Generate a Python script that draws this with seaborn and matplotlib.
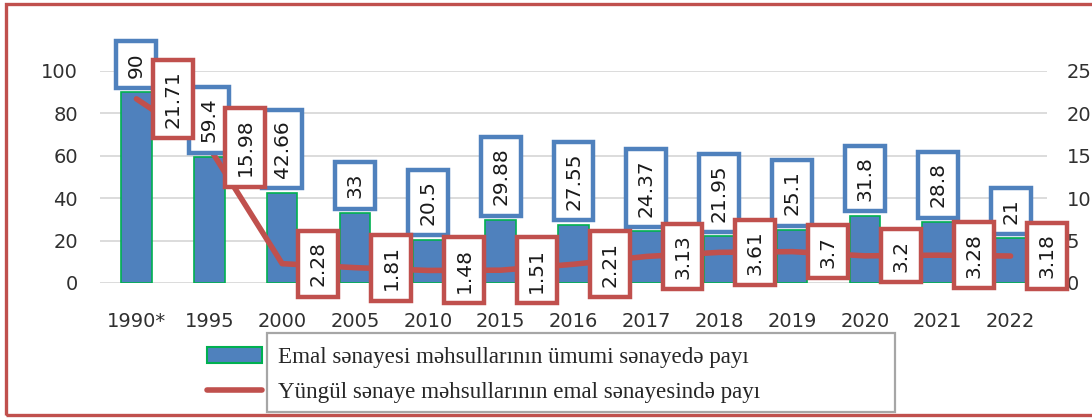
import matplotlib
matplotlib.use("Agg")
import matplotlib.pyplot as plt
from matplotlib.patches import Patch, Rectangle
from matplotlib.lines import Line2D
import seaborn as sns

years = ["1990*", "1995", "2000", "2005", "2010", "2015", "2016",
         "2017", "2018", "2019", "2020", "2021", "2022"]
emal = [90, 59.4, 42.66, 33, 20.5, 29.88, 27.55, 24.37, 21.95, 25.1, 31.8, 28.8, 21]
yungul = [21.71, 15.98, 2.28, 1.81, 1.48, 1.51, 2.21, 3.13, 3.61, 3.7, 3.2, 3.28, 3.18]
emal_txt = ["90", "59.4", "42.66", "33", "20.5", "29.88", "27.55", "24.37",
            "21.95", "25.1", "31.8", "28.8", "21"]
yungul_txt = ["21.71", "15.98", "2.28", "1.81", "1.48", "1.51", "2.21", "3.13",
              "3.61", "3.7", "3.2", "3.28", "3.18"]
legend_labels = ["Emal sənayesi məhsullarının ümumi sənayedə payı",
                 "Yüngül sənaye məhsullarının emal sənayesində payı"]

blue = "#4f81bd"
green = "#00b050"
red = "#c0504d"
tick_col = "#303030"

sns.set_theme(style="white")
plt.rcParams["font.family"] = ["DejaVu Sans"]

fig = plt.figure(figsize=(10.92, 4.19), dpi=100)
ax = fig.add_axes([0.0916, 0.3246, 0.8672, 0.506])

sns.barplot(x=years, y=emal, color=blue, edgecolor=green, linewidth=1.2,
            width=0.42, saturation=1, ax=ax, zorder=2)
ax.set_ylim(0, 100)
ax.set_yticks([0, 20, 40, 60, 80, 100])
ax.yaxis.grid(True, color="#d9d9d9", lw=1.3, zorder=0)
ax.set_axisbelow(True)
ax.tick_params(axis="both", length=0, labelsize=14, labelcolor=tick_col)
ax.tick_params(axis="x", pad=21)
ax.tick_params(axis="y", pad=16)
ax.set_xlabel("")
ax.set_ylabel("")

ax2 = ax.twinx()
sns.lineplot(x=list(range(len(years))), y=yungul, color=red, lw=4, ax=ax2)
ax2.set_ylim(0, 25)
ax2.set_yticks([0, 5, 10, 15, 20, 25])
ax2.tick_params(axis="y", length=0, labelsize=14, labelcolor=tick_col, pad=14)
ax2.grid(False)
ax2.set_ylabel("")
ax.set_xlim(-0.5, len(years) - 0.5)

for a in (ax, ax2):
    for s in a.spines.values():
        s.set_visible(False)

for i, (v, t) in enumerate(zip(emal, emal_txt)):
    ax2.annotate(t, xy=(i, v), xycoords=ax.transData, xytext=(0, 10.5),
                 textcoords="offset points", rotation=90, ha="center", va="bottom",
                 fontsize=14.5, color="#1a1a1a", annotation_clip=False,
                 bbox=dict(boxstyle="square,pad=0.52", fc="white", ec=blue, lw=3.2))

for i, (v, t) in enumerate(zip(yungul, yungul_txt)):
    ax2.annotate(t, xy=(i, v), xytext=(26, 0), textcoords="offset points",
                 rotation=90, ha="center", va="center", fontsize=14.5, color="#1a1a1a",
                 annotation_clip=False,
                 bbox=dict(boxstyle="square,pad=0.52", fc="white", ec=red, lw=3.2))

handles = [Patch(facecolor=blue, edgecolor=green, lw=1.5),
           Line2D([0], [0], color=red, lw=4)]
fig.legend(handles, legend_labels, loc="upper left", bbox_to_anchor=(0.1896, 0.172),
           frameon=False, handlelength=2.4, handletextpad=0.66, labelspacing=0.58,
           borderpad=0, borderaxespad=0,
           prop={"family": "Liberation Serif", "size": 16.6})

fig.patches.append(Rectangle((0.2445, 0.0167), 0.575, 0.1885, transform=fig.transFigure,
                             fill=False, ec="#a6a6a6", lw=1.6, zorder=0))
fig.patches.append(Rectangle((0.0055, 0.0095), 1.05, 0.98, transform=fig.transFigure,
                             fill=False, ec=red, lw=2.4, zorder=0))

fig.savefig("out.png", dpi=100)
